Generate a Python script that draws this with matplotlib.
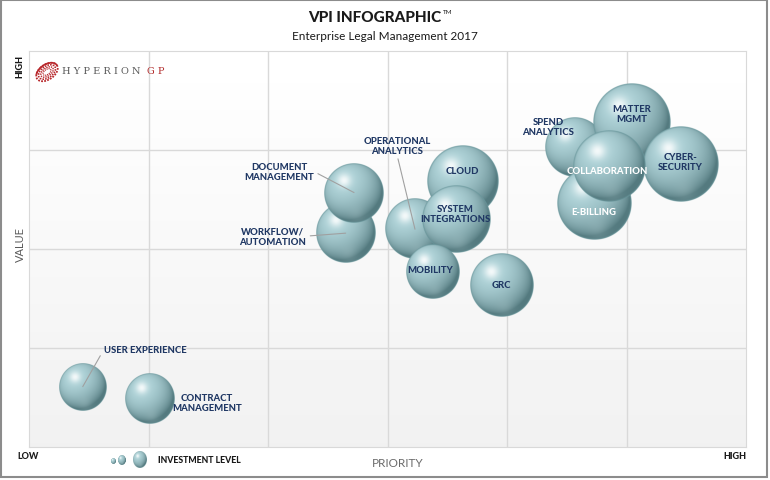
import numpy as np
import matplotlib
matplotlib.use("Agg")
import matplotlib.pyplot as plt
from matplotlib.patches import Rectangle, Arc

plt.rcParams['font.family'] = ['Lato', 'DejaVu Sans']

# Daten: Priorität (x), Wert (y), Investitionsniveau (Blasenradius)
labels = ["USER EXPERIENCE", "CONTRACT\nMANAGEMENT", "WORKFLOW/\nAUTOMATION",
          "DOCUMENT\nMANAGEMENT", "OPERATIONAL\nANALYTICS", "CLOUD", "SYSTEM\nINTEGRATIONS",
          "MOBILITY", "GRC", "SPEND\nANALYTICS", "MATTER\nMGMT", "E-BILLING",
          "CYBER-\nSECURITY", "COLLABORATION"]
priority = [0.45, 1.01, 2.65, 2.72, 3.23, 3.63, 3.57, 3.38, 3.96, 4.57, 5.05, 4.73, 5.46, 4.85]
value = [0.61, 0.48, 2.16, 2.57, 2.20, 2.69, 2.30, 1.77, 1.64, 3.03, 3.28, 2.46, 2.86, 2.84]
investment = [2.4, 2.5, 3.0, 3.0, 3.0, 3.6, 3.4, 2.7, 3.2, 3.0, 3.9, 3.7, 3.8, 3.6]

# Beschriftung: Versatz in Pixeln, Ausrichtung, Farbe, Hinweislinie
label_style = {
    "USER EXPERIENCE": ((21, 37), 'left', 'dark', (0, 0.5)),
    "CONTRACT\nMANAGEMENT": ((57, -3), 'center', 'dark', None),
    "WORKFLOW/\nAUTOMATION": ((-73, -3), 'center', 'dark', (1, 0.5)),
    "DOCUMENT\nMANAGEMENT": ((-75, 21), 'center', 'dark', (1, 0.5)),
    "OPERATIONAL\nANALYTICS": ((-18, 84), 'center', 'dark', (0.5, 0)),
    "CLOUD": ((0, 10), 'center', 'dark', None),
    "SYSTEM\nINTEGRATIONS": ((0, 6), 'center', 'dark', None),
    "MOBILITY": ((-3, 2), 'center', 'dark', None),
    "GRC": ((-1, 0), 'center', 'dark', None),
    "SPEND\nANALYTICS": ((-27, 21), 'center', 'dark', None),
    "MATTER\nMGMT": ((-1, 9), 'center', 'dark', None),
    "E-BILLING": ((0, -8), 'center', 'white', None),
    "CYBER-\nSECURITY": ((-1, 2), 'center', 'dark', None),
    "COLLABORATION": ((-1, -5), 'center', 'white', None),
}

navy = '#203864'
W, H = 770, 481


def kugel(n=200):
    # schattierte Kugel als RGBA-Bild
    v, u = np.mgrid[1:-1:n*1j, -1:1:n*1j]
    r = np.sqrt(u**2 + v**2)
    z = np.sqrt(np.clip(1 - r**2, 0, 1))
    L = np.array([-0.35, 0.45, 0.82])
    L = L / np.linalg.norm(L)
    diff = np.clip(u*L[0] + v*L[1] + z*L[2], 0, 1)
    dark = np.array([0.33, 0.48, 0.50])
    light = np.array([0.70, 0.84, 0.86])
    col = dark + (light - dark) * diff[..., None]**0.85
    spec = np.exp(-((u + 0.33)**2 + (v - 0.42)**2) / 0.05)
    col = col + (1 - col) * spec[..., None] * 0.85
    # leichte Reflexion unten
    refl = np.exp(-((u - 0.1)**2 + (v + 0.72)**2) / 0.08) * 0.15
    col = col + (np.array([0.85, 0.93, 0.94]) - col) * refl[..., None]
    rim = np.clip((r - 0.95) / 0.05, 0, 1)
    col = col * (1 - rim[..., None]) + np.array([0.42, 0.60, 0.62]) * rim[..., None]
    alpha = np.clip((1 - r) * n / 2.0, 0, 1)
    return np.dstack([np.clip(col, 0, 1), alpha])


sphere = kugel()

fig = plt.figure(figsize=(W/100, H/100), dpi=100)
x0, x1, y0, y1 = 29, 746, 52, 448
ax = fig.add_axes([x0/W, 1 - y1/H, (x1-x0)/W, (y1-y0)/H])
ax.set_xlim(0, 6)
ax.set_ylim(0, 4)
px_x = (x1 - x0) / 6
px_y = (y1 - y0) / 4

# Hintergrund mit Verlauf
grad = np.linspace(1.0, 0.945, 100)[:, None] * np.ones((100, 2))
ax.imshow(grad, extent=(0, 6, 0, 4), cmap='gray', vmin=0, vmax=1, aspect='auto', zorder=0)
for gx in range(1, 6):
    ax.axvline(gx, color='#d9d9d9', lw=1, zorder=1)
for gy in range(1, 4):
    ax.axhline(gy, color='#d9d9d9', lw=1, zorder=1)
for s in ax.spines.values():
    s.set_color('#d9d9d9')
ax.set_xticks([])
ax.set_yticks([])

for i, (lab, px, vy, inv) in enumerate(zip(labels, priority, value, investment)):
    r = inv * 10
    rx, ry = r / px_x, r / px_y
    ax.imshow(sphere, extent=(px - rx, px + rx, vy - ry, vy + ry), aspect='auto',
              zorder=2 + i, interpolation='antialiased')
    off, ha, c, rel = label_style[lab]
    arrow = None
    if rel is not None:
        arrow = dict(arrowstyle='-', color='#a0a0a0', lw=0.8, shrinkA=1, shrinkB=0, relpos=rel)
    ax.annotate(lab, (px, vy), xytext=off, textcoords='offset pixels', ha=ha, va='center',
                fontsize=6.8, fontweight='black', color=navy if c == 'dark' else 'white',
                linespacing=1.15, zorder=40 + i, arrowprops=arrow)

ax.set_xlim(0, 6)
ax.set_ylim(0, 4)

# Überlagerung in Pixelkoordinaten
ov = fig.add_axes([0, 0, 1, 1], zorder=-1)
ov.set_xlim(0, W)
ov.set_ylim(H, 0)
ov.axis('off')
ov.add_patch(Rectangle((1, 1), W - 4, H - 4, fill=False, ec='#8c8c8c', lw=1.5))

top = fig.add_axes([0, 0, 1, 1], zorder=5)
top.set_xlim(0, W)
top.set_ylim(H, 0)
top.axis('off')
top.patch.set_alpha(0)

top.text(441, 18, "VPI INFOGRAPHIC", ha='right', va='center', fontsize=11,
         fontweight='black', color='#1a1a1a')
top.text(443, 13, "TM", ha='left', va='center', fontsize=4.5, color='#1a1a1a')
top.text(385, 37, "Enterprise Legal Management 2017", ha='center', va='center',
         fontsize=8.5, color='#1a1a1a')
top.text(20, 66, "HIGH", rotation=90, ha='center', va='center', fontsize=6.5,
         fontweight='black', color='#1a1a1a')
top.text(20, 245, "VALUE", rotation=90, ha='center', va='center', fontsize=8,
         color='#595959')
top.text(28, 457, "LOW", ha='center', va='center', fontsize=6.5, fontweight='black', color='#1a1a1a')
top.text(735, 457, "HIGH", ha='center', va='center', fontsize=6.5, fontweight='black', color='#1a1a1a')
top.text(398, 464, "PRIORITY", ha='center', va='center', fontsize=8.5, color='#6b6b6b')
top.text(158, 461, "INVESTMENT LEVEL", ha='left', va='center', fontsize=6.3,
         fontweight='black', color='#1a1a1a')

# Legende: drei kleine Kugeln
for cx, cy, rr in [(113, 462, 3), (122, 461, 5), (140, 461, 8.5)]:
    top.imshow(sphere, extent=(cx - rr*0.8, cx + rr*0.8, cy + rr, cy - rr), aspect='auto', zorder=3)

# Logo HyperionGP: geneigte, gepunktete Ringe
for k, (ww, hh) in enumerate([(24, 15), (19, 11.5), (14, 8), (9, 5)]):
    top.add_patch(Arc((47, 73), ww, hh, angle=-35, theta1=0, theta2=360,
                      color='#b8282c', lw=1.3 - k*0.15, ls=(0, (1.0, 0.7))))
top.add_patch(Arc((47, 73), 24, 15, angle=-35, theta1=200, theta2=360,
                  color='#b8282c', lw=1.2))
top.text(62, 72, "H Y P E R I O N", ha='left', va='center', fontsize=7,
         family='DejaVu Serif', color='#5a5a5a')
top.text(147, 72, "G P", ha='left', va='center', fontsize=7,
         family='DejaVu Serif', color='#b22c2c')
top.set_xlim(0, W)
top.set_ylim(H, 0)

fig.savefig('out.png', dpi=100)
